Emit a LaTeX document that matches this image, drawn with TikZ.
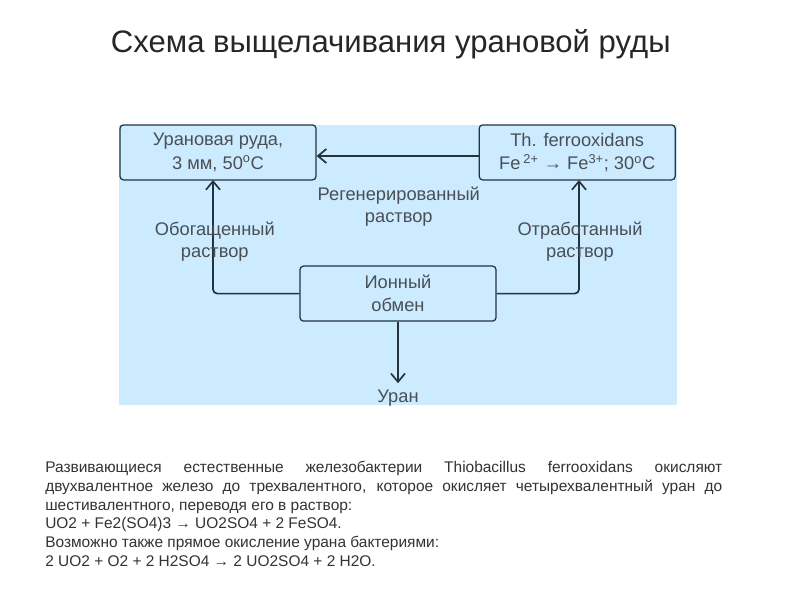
\documentclass[tikz,border=0pt]{standalone}
\usepackage{fontspec}
\setmainfont{Liberation Sans}
\usetikzlibrary{arrows.meta}
\definecolor{schemeblue}{HTML}{CCEBFE}
\definecolor{schemeline}{HTML}{24343F}
\definecolor{schemetext}{HTML}{4A4F55}
\tikzset{
	unitbox/.style={draw=schemeline, line width=0.9pt, rounded corners=2.5pt, minimum width=4.9cm, minimum height=1.375cm, align=center, text=schemetext, font=\fontsize{13}{16.4}\selectfont},
	flowlabel/.style={align=center, text=schemetext, font=\fontsize{13}{15.6}\selectfont},
	flowarrow/.style={draw=schemeline, line width=1.2pt, rounded corners=3pt, -{Straight Barb[length=6pt,width=10pt,line width=1.2pt]}}
}
\begin{document}
\begin{tikzpicture}
	\useasboundingbox (0, 0) rectangle (20, 15);
	\fill[white] (0, 0) rectangle (20, 15);
	\fill[schemeblue] (2.975, 4.875) rectangle (16.925, 11.875);

	\node[text=black!85] (title) at (9.77, 13.9) {\fontsize{22.1}{26}\selectfont Схема выщелачивания урановой руды};

	\node[unitbox] (ore) at (5.45, 11.19) {Урановая руда,\\3 мм, 50\textsuperscript{o}C};
	\node[unitbox] (bact) at (14.43, 11.19) {Th. ferrooxidans\\Fe\,\textsuperscript{2+} → Fe\textsuperscript{3+}; 30\textsuperscript{o}C};
	\node[unitbox] (ion) at (9.95, 7.66) {Ионный\\обмен};

	\coordinate (oreport) at (5.325, 10.5);
	\coordinate (bactport) at (14.475, 10.5);
	\coordinate (uranend) at (9.95, 5.42);

	\draw[flowarrow] (bact.west |- 0, 11.1) -- (ore.east |- 0, 11.1);
	\draw[flowarrow] (ion.west) -| (oreport);
	\draw[flowarrow] (ion.east) -| (bactport);
	\draw[flowarrow] (ion.south) -- (uranend);

	\node[flowlabel] (regen) at (9.97, 9.83) {Регенерированный\\раствор};
	\node[flowlabel] (rich) at (5.37, 8.97) {Обогащенный\\раствор};
	\node[flowlabel] (spent) at (14.5, 8.97) {Отработанный\\раствор};
	\node[flowlabel] (uran) at (9.95, 5.05) {Уран};

	\node[anchor=north west, inner sep=0pt, text width=16.925cm, align=justify, text=black!80, font=\fontsize{11}{13.3}\selectfont] (notes) at (1.125, 3.47) {Развивающиеся естественные железобактерии Thiobacillus ferrooxidans окисляют\linebreak
	двухвалентное железо до трехвалентного, которое окисляет четырехвалентный уран до\linebreak
	шестивалентного, переводя его в раствор:\\
	UO2 + Fe2(SO4)3 → UO2SO4 + 2 FeSO4.\\
	Возможно также прямое окисление урана бактериями:\\
	2 UO2 + O2 + 2 H2SO4 → 2 UO2SO4 + 2 H2O.};
\end{tikzpicture}
\end{document}
